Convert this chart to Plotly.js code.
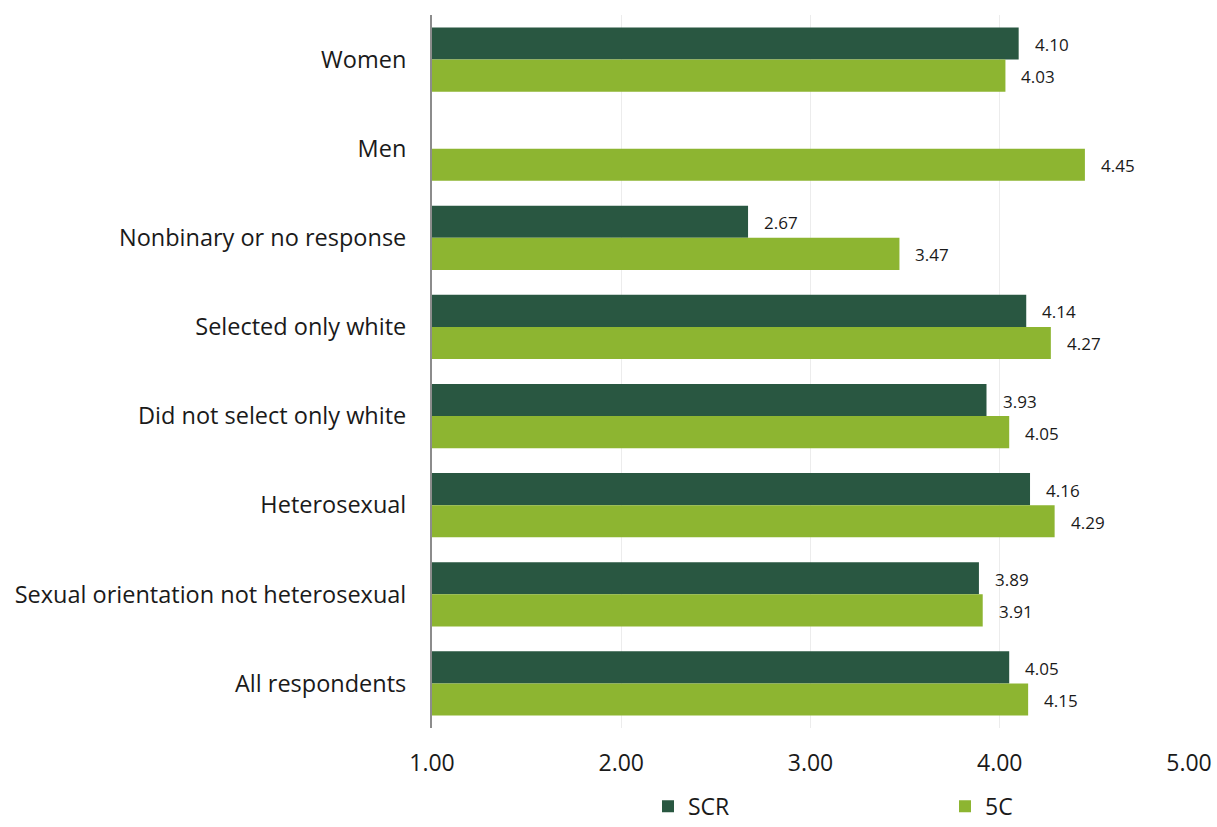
<!DOCTYPE html>
<html>
<head>
<meta charset="utf-8">
<script src="https://cdn.plot.ly/plotly-3.0.1.min.js"></script>
<style>
  html, body { margin: 0; padding: 0; background: #fff; }
  #chart { width: 1217px; height: 827px; }
</style>
</head>
<body>
<div id="chart"></div>
<script>
// Respondent groups, top to bottom
const categories = [
  "Women",
  "Men",
  "Nonbinary or no response",
  "Selected only white",
  "Did not select only white",
  "Heterosexual",
  "Sexual orientation not heterosexual",
  "All respondents"
];

// Mean scores per group (null = not reported)
const scrValues = [4.10, null, 2.67, 4.14, 3.93, 4.16, 3.89, 4.05];
const fiveCValues = [4.03, 4.45, 3.47, 4.27, 4.05, 4.29, 3.91, 4.15];

const seriesNames = ["SCR", "5C"];
const xTickValues = [1, 2, 3, 4, 5];
const xTickLabels = ["1.00", "2.00", "3.00", "4.00", "5.00"];

const colors = { SCR: "#295741", "5C": "#8db531" };
const fontFamily = "'Open Sans', 'Noto Sans', sans-serif";
const textColor = "#1a1a1a";

function barTrace(name, values, legendId) {
  return {
    type: "bar",
    orientation: "h",
    name: name,
    y: categories,
    x: values,
    base: 0,
    legend: legendId,
    marker: { color: colors[name] },
    hoverinfo: "x+name"
  };
}

const traces = [
  barTrace(seriesNames[0], scrValues, "legend"),
  barTrace(seriesNames[1], fiveCValues, "legend2")
];

// Value labels placed just right of each bar end
const annotations = [];
[[scrValues, -16], [fiveCValues, 16]].forEach(([vals, dy]) => {
  vals.forEach((v, i) => {
    if (v === null) return;
    annotations.push({
      x: v, y: categories[i], xref: "x", yref: "y",
      text: v.toFixed(2), showarrow: false,
      xanchor: "left", yanchor: "middle",
      xshift: 14, yshift: -dy - 1,
      font: { family: fontFamily, size: 17, color: textColor }
    });
  });
});

function legendBox(xPx) {
  return {
    orientation: "h",
    xref: "container", yref: "container",
    x: xPx / 1217, xanchor: "left",
    y: 0.025, yanchor: "middle",
    bgcolor: "rgba(0,0,0,0)",
    font: { family: fontFamily, size: 23, color: textColor },
    itemclick: false,
    itemdoubleclick: false
  };
}

const layout = {
  width: 1217,
  height: 827,
  margin: { l: 432, r: 28, t: 15, b: 99, autoexpand: false },
  paper_bgcolor: "#ffffff",
  plot_bgcolor: "#ffffff",
  barmode: "group",
  bargap: 0.28,
  bargroupgap: 0,
  font: { family: fontFamily, color: textColor },
  xaxis: {
    range: [1, 5],
    tickvals: xTickValues,
    ticktext: xTickLabels,
    showgrid: true,
    gridcolor: "#ececec",
    gridwidth: 1,
    zeroline: false,
    showline: false,
    ticks: "",
    ticklabelstandoff: 19,
    tickfont: { family: fontFamily, size: 23, color: textColor },
    fixedrange: true
  },
  yaxis: {
    type: "category",
    autorange: "reversed",
    showgrid: false,
    zeroline: false,
    showline: true,
    linecolor: "#8c8c8c",
    linewidth: 2,
    ticks: "",
    ticklabelstandoff: 19,
    tickfont: { family: fontFamily, size: 23.5, color: textColor },
    fixedrange: true
  },
  showlegend: true,
  legend: legendBox(648),
  legend2: legendBox(945),
  annotations: annotations
};

Plotly.newPlot("chart", traces, layout, { displayModeBar: false, staticPlot: true });
</script>
</body>
</html>
